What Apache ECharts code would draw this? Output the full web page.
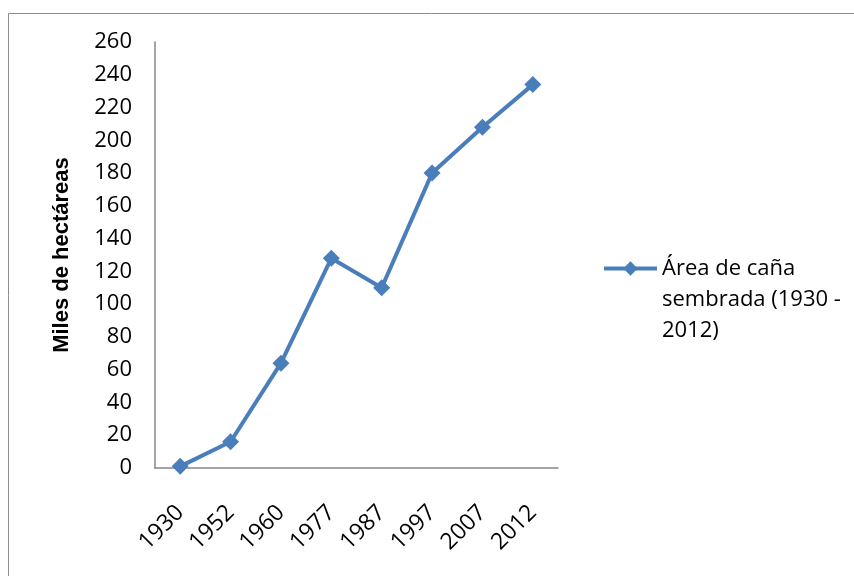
<!DOCTYPE html>
<html>
<head>
<meta charset="utf-8">
<script src="https://cdn.jsdelivr.net/npm/echarts@6/dist/echarts.min.js"></script>
<style>
  html, body { margin: 0; padding: 0; background: #fff; }
  #main { width: 854px; height: 576px; }
</style>
</head>
<body>
<div id="main"></div>
<script>
var years = ['1930', '1952', '1960', '1977', '1987', '1997', '2007', '2012'];
var area = [1, 16, 64, 128, 110, 180, 208, 234];
var seriesName = 'Área de caña sembrada (1930 - 2012)';
var legendLines = ['Área de caña', 'sembrada (1930 -', '2012)'];
var yTitle = 'Miles de hectáreas';

var font = 'Open Sans';
var blue = '#4a7ebb';

var myChart = echarts.init(document.getElementById('main'));
var option = {
    backgroundColor: '#fff',
    animation: false,
    graphic: [{
        type: 'rect',
        shape: { x: 8.5, y: 13.5, width: 860, height: 600 },
        style: { fill: 'none', stroke: '#8c8c8c', lineWidth: 1 },
        silent: true
    }],
    grid: {
        left: 155,
        right: 296,
        top: 42,
        bottom: 108
    },
    legend: {
        left: 597,
        top: 186,
        orient: 'vertical',
        itemWidth: 53,
        itemHeight: 18,
        itemGap: 5,
        lineStyle: { width: 4 },
        formatter: function () {
            // two blank lines on top keep the first line level with the icon
            return ' \n \n' + legendLines.join('\n');
        },
        textStyle: {
            fontFamily: font,
            fontSize: 22,
            color: '#000',
            lineHeight: 31
        },
        data: [seriesName]
    },
    xAxis: {
        type: 'category',
        data: years,
        boundaryGap: true,
        axisLine: { lineStyle: { color: '#868686', width: 1.5 } },
        axisTick: { show: false },
        axisLabel: {
            rotate: 45,
            margin: 41,
            fontFamily: font,
            fontSize: 23,
            color: '#000'
        }
    },
    yAxis: {
        type: 'value',
        min: 0,
        max: 260,
        interval: 20,
        name: yTitle,
        nameLocation: 'middle',
        nameGap: 82,
        nameRotate: 90,
        nameTextStyle: {
            fontFamily: 'Liberation Sans',
            fontSize: 22,
            fontWeight: 'bold',
            color: '#000'
        },
        axisLine: { show: true, lineStyle: { color: '#868686', width: 1.5 } },
        axisTick: { show: false },
        splitLine: { show: false },
        axisLabel: {
            margin: 23,
            fontFamily: font,
            fontSize: 22,
            color: '#000'
        }
    },
    series: [{
        name: seriesName,
        type: 'line',
        data: area,
        symbol: 'diamond',
        symbolSize: 17,
        lineStyle: { color: blue, width: 4 },
        itemStyle: { color: blue }
    }]
};
myChart.setOption(option);
</script>
</body>
</html>
